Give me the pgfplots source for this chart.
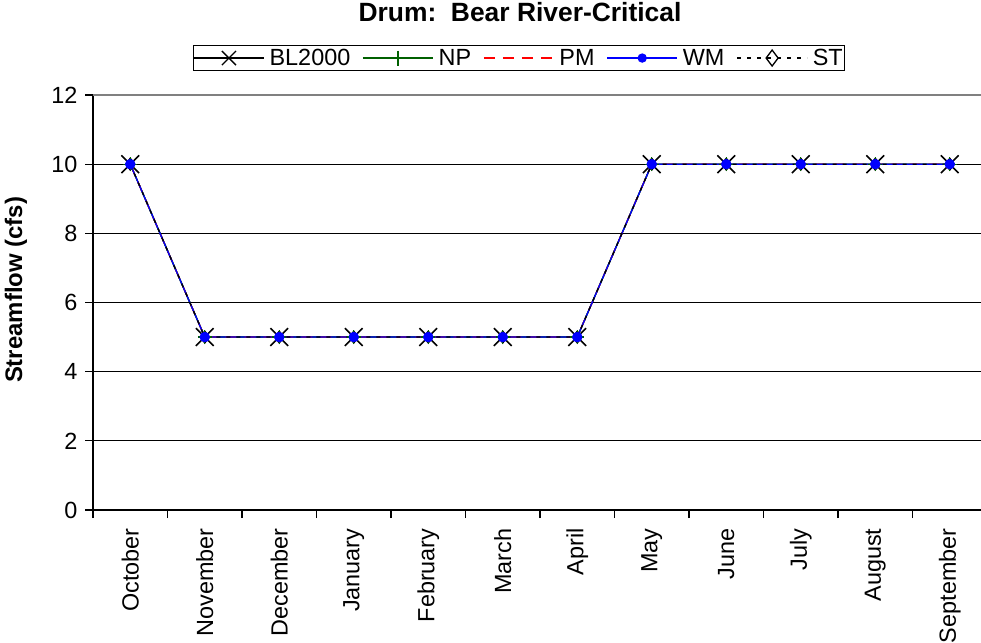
\documentclass[border=0pt]{standalone}
\usepackage{pgfplots}
\usepackage{pgfplotstable}
\pgfplotsset{compat=1.18}
\usepackage{fontspec}
\setmainfont{Liberation Sans}
\definecolor{npgreen}{RGB}{0,96,0}
\pgfplotstableread{
m BL2000 NP PM WM ST
0 10 10 10 10 10
1 5 5 5 5 5
2 5 5 5 5 5
3 5 5 5 5 5
4 5 5 5 5 5
5 5 5 5 5 5
6 5 5 5 5 5
7 10 10 10 10 10
8 10 10 10 10 10
9 10 10 10 10 10
10 10 10 10 10 10
11 10 10 10 10 10
}\drum
\begin{document}
\begin{tikzpicture}
\path[use as bounding box, clip] (0,0) rectangle (981bp,643bp);
\fill[white] (0,0) rectangle (981bp,643bp);
\begin{axis}[
  at={(93bp,133bp)}, anchor=south west,
  scale only axis, width=894bp, height=415bp,
  xmin=-0.5, xmax=11.5, ymin=0, ymax=12,
  axis x line*=bottom, axis y line*=left,
  axis line style={black, line width=1.1bp},
  ytick={0,2,...,12},
  xtick={-0.5,0.5,...,11.5},
  xticklabels={},
  extra x ticks={0,1,...,11},
  extra x tick labels={October,November,December,January,February,March,April,May,June,July,August,September},
  extra x tick style={major tick length=0pt},
  xticklabel style={rotate=90, anchor=east},
  xticklabel shift=15bp,
  yticklabel style={xshift=-4bp},
  tick align=outside,
  major tick length=8bp,
  tick style={black, line width=1.1bp},
  ymajorgrids,
  grid style={black, line width=0.9bp},
  tick label style={font=\fontsize{23.5}{27}\selectfont},
  /pgf/number format/assume math mode=true,
  legend columns=5,
  legend style={at={(0.4765,1.089)}, anchor=center, draw=black, line width=1bp,
    font=\fontsize{23.5}{27}\selectfont, inner xsep=0bp, inner ysep=2bp,
    nodes={inner xsep=2bp, inner ysep=2bp},
    /tikz/every odd column/.append style={column sep=3bp},
    /tikz/every even column/.append style={column sep=10bp}},
  legend image code/.code={\draw[mark repeat=2,mark phase=2,#1] plot coordinates {(0bp,0bp)(35bp,0bp)(70bp,0bp)};},
]
% lines
\addplot[black, line width=1.3bp, forget plot] table[x=m, y=BL2000] {\drum};
\addplot[npgreen, line width=1.3bp, forget plot] table[x=m, y=NP] {\drum};
\addplot[red, line width=1.3bp, dash pattern=on 11bp off 8bp, forget plot] table[x=m, y=PM] {\drum};
\addplot[blue, line width=1.3bp, forget plot] table[x=m, y=WM] {\drum};
\addplot[black, line width=1.3bp, dash pattern=on 4bp off 6bp, forget plot] table[x=m, y=ST] {\drum};
% marks
\addplot[only marks, black, mark=diamond, mark size=6bp, mark options={line width=1.2bp}, forget plot] table[x=m, y=ST] {\drum};
\addplot[only marks, black, mark=x, mark size=12.5bp, mark options={line width=1.6bp}, forget plot] table[x=m, y=BL2000] {\drum};
\addplot[only marks, npgreen, mark=+, mark size=7bp, mark options={line width=1.3bp}, forget plot] table[x=m, y=NP] {\drum};
\addplot[only marks, blue, mark=*, mark size=5bp, forget plot] table[x=m, y=WM] {\drum};
% legend
\addlegendimage{black, line width=1.3bp, mark=x, mark size=10bp}
\addlegendentry{BL2000}
\addlegendimage{npgreen, line width=1.3bp, mark=+, mark size=7.5bp}
\addlegendentry{NP}
\addlegendimage{red, line width=1.3bp, dash pattern=on 11bp off 8bp}
\addlegendentry{PM}
\addlegendimage{blue, line width=1.3bp, mark=*, mark size=4bp}
\addlegendentry{WM}
\addlegendimage{black, line width=1.3bp, dash pattern=on 4bp off 6bp, mark=diamond, mark size=8bp, mark options={solid, fill=white}}
\addlegendentry{ST}
\draw[gray, line width=1.6bp] (rel axis cs:0,1) -- (rel axis cs:1,1);
\end{axis}
\node[font=\bfseries\fontsize{26.5}{30}\selectfont] at (520bp,631bp) {Drum:\ \ Bear River-Critical};
\node[rotate=90, font=\bfseries\fontsize{24}{28}\selectfont] at (16bp,353bp) {Streamflow (cfs)};
\end{tikzpicture}
\end{document}
